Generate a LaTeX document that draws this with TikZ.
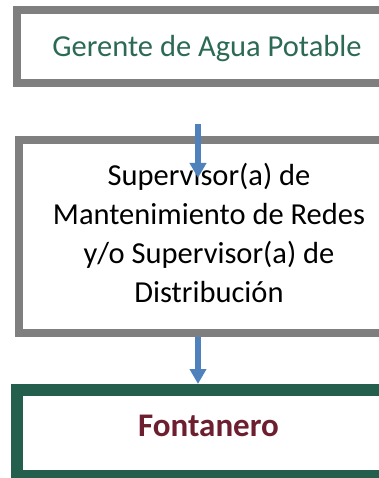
\documentclass[tikz,border=0pt]{standalone}
\usepackage{fontspec}
\setmainfont{Carlito}
\usetikzlibrary{arrows.meta}
\definecolor{boxgray}{HTML}{7F7F7F}
\definecolor{boxgreen}{HTML}{245E4C}
\definecolor{txtgreen}{HTML}{2C6A55}
\definecolor{txtmaroon}{HTML}{6D1F2F}
\definecolor{arrblue}{HTML}{4F81BD}
\tikzset{
  graybox/.style={draw=boxgray, line width=8pt, rectangle, inner sep=0pt},
  greenbox/.style={draw=boxgreen, line width=12pt, rectangle, inner sep=0pt},
  flowarrow/.style={draw=arrblue, line width=5.5pt, -{Triangle[width=16pt,length=15pt]}},
}
\begin{document}
\begin{tikzpicture}[x=1pt,y=-1pt]
\clip (0,0) rectangle (379,478);
\fill[white] (0,0) rectangle (379,478);
% boxes
\node[graybox, minimum width=383pt, minimum height=73.5pt] (g) at (208.5,46.75) {};
\node[graybox, minimum width=380pt, minimum height=192.5pt] (s) at (209,236.25) {};
\node[greenbox, minimum width=383pt, minimum height=86pt] (f) at (208.5,433) {};
% texts
\node[anchor=base, text=txtgreen, font=\fontsize{30.5}{36}\selectfont, inner sep=0pt] (gt) at (207,57) {Gerente de Agua Potable};
\node[anchor=base, align=center, font=\fontsize{30.5}{38.7}\selectfont, inner sep=0pt] (st) at (209,302) {Supervisor(a) de\\Mantenimiento de Redes\\y/o Supervisor(a) de\\Distribución};
\node[anchor=base, text=txtmaroon, font=\fontsize{33}{39}\selectfont\bfseries, inner sep=0pt] (ft) at (208.5,436) {Fontanero};
% arrows
\coordinate (a1s) at (198,124);
\coordinate (a1e) at (198,178);
\draw[flowarrow] (a1s) -- (a1e);
\draw[flowarrow] (s.south -| a1s) -- (f.north -| a1s);
\end{tikzpicture}
\end{document}
